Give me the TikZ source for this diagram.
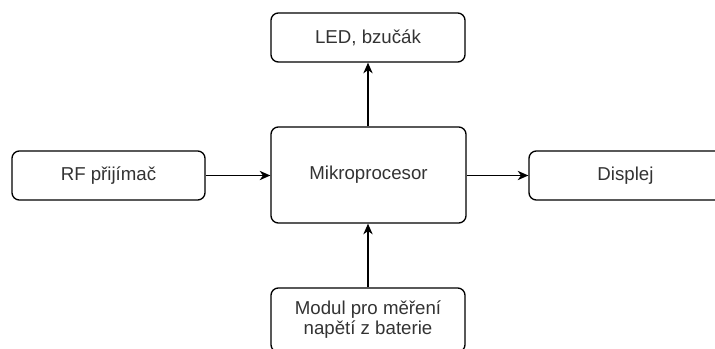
\documentclass[tikz,border=0pt]{standalone}
\usepackage{fontspec}
\setmainfont{Liberation Sans}
\usetikzlibrary{arrows.meta}
\definecolor{txt}{HTML}{333333}
\tikzset{
  blk/.style={draw=black, line width=1pt, rounded corners=5.5pt, fill=white,
    inner sep=0pt, text=txt, font=\fontsize{14}{15}\selectfont, align=center,
    minimum width=145.5pt, minimum height=36.75pt},
  conn/.style={draw=black, line width=1pt, -{Stealth[length=8pt,width=7pt,inset=2.5pt]}}
}
\begin{document}
\begin{tikzpicture}[x=0.75pt,y=-0.75pt]
\clip (0,0) rectangle (715,349);
\useasboundingbox (0,0) rectangle (715,349);
\node[blk] (led) at (368,37.5) {LED, bzučák};
\node[blk, minimum width=144.75pt] (rf) at (108.5,175.5) {RF přijímač};
\node[blk, minimum width=146.25pt, minimum height=72pt] (mcu) at (368.5,175) {Mikroprocesor};
\node[blk, minimum width=144.75pt] (disp) at (625.5,175.5) {Displej};
\node[blk, minimum height=48pt] (mod) at (368,320) {Modul pro měření\\napětí z baterie};
\draw[conn] (mcu.north -| led.south) -- (led.south);
\draw[conn] (rf.east) -- (rf.east -| mcu.west);
\draw[conn] (mcu.east |- disp.west) -- (disp.west);
\draw[conn] (mod.north) -- (mod.north |- mcu.south);
\end{tikzpicture}
\end{document}
